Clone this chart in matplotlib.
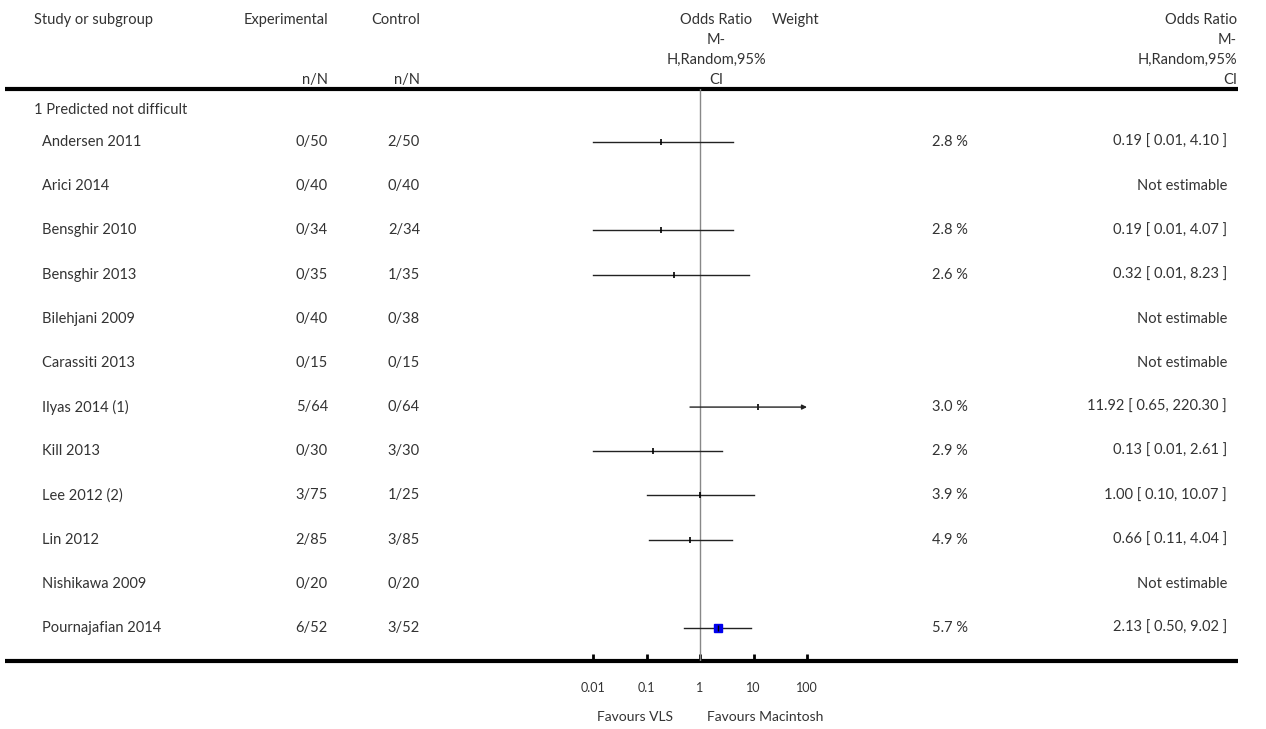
import numpy as np
import matplotlib
matplotlib.use("Agg")
import matplotlib.pyplot as plt

plt.rcParams['font.family'] = ['Lato', 'DejaVu Sans']

# datos del forest plot
estudios = ["Andersen 2011", "Arici 2014", "Bensghir 2010", "Bensghir 2013",
            "Bilehjani 2009", "Carassiti 2013", "Ilyas 2014 (1)", "Kill 2013",
            "Lee 2012 (2)", "Lin 2012", "Nishikawa 2009", "Pournajafian 2014"]
exp_txt = ["0/50", "0/40", "0/34", "0/35", "0/40", "0/15", "5/64", "0/30",
           "3/75", "2/85", "0/20", "6/52"]
ctl_txt = ["2/50", "0/40", "2/34", "1/35", "0/38", "0/15", "0/64", "3/30",
           "1/25", "3/85", "0/20", "3/52"]
or_est = [0.19, None, 0.19, 0.32, None, None, 11.92, 0.13, 1.00, 0.66, None, 2.13]
ci_lo = [0.01, None, 0.01, 0.01, None, None, 0.65, 0.01, 0.10, 0.11, None, 0.50]
ci_hi = [4.10, None, 4.07, 8.23, None, None, 220.30, 2.61, 10.07, 4.04, None, 9.02]
peso = [2.8, None, 2.8, 2.6, None, None, 3.0, 2.9, 3.9, 4.9, None, 5.7]

W, H = 1266, 729
gris = '#333333'
fs = 10.5

fig = plt.figure(figsize=(W / 100, H / 100), dpi=100)
ax = fig.add_axes([0, 0, 1, 1])
ax.set_xlim(0, W)
ax.set_ylim(H, 0)
ax.axis('off')

# encabezados
ax.text(34, 20, "Study or subgroup", fontsize=fs, color=gris, va='center', ha='left')
ax.text(328, 20, "Experimental", fontsize=fs, color=gris, va='center', ha='right')
ax.text(328, 80, "n/N", fontsize=fs, color=gris, va='center', ha='right')
ax.text(420, 20, "Control", fontsize=fs, color=gris, va='center', ha='right')
ax.text(420, 80, "n/N", fontsize=fs, color=gris, va='center', ha='right')
for k, linea in enumerate(["Odds Ratio", "M-", "H,Random,95%", "CI"]):
    ax.text(716, 20 + k * 20, linea, fontsize=fs, color=gris, va='center', ha='center')
    ax.text(1237, 20 + k * 20, linea, fontsize=fs, color=gris, va='center', ha='right')
ax.text(796, 20, "Weight", fontsize=fs, color=gris, va='center', ha='center')

ax.plot([5, 1238], [89, 89], color='black', lw=3, solid_capstyle='butt')
ax.plot([5, 1238], [661, 661], color='black', lw=3, solid_capstyle='butt')

ax.text(34, 110, "1 Predicted not difficult", fontsize=fs, color=gris, va='center', ha='left')

y0, paso = 142, 44.18
filas = [y0 + i * paso for i in range(len(estudios))]

for i, y in enumerate(filas):
    ax.text(42, y, estudios[i], fontsize=fs, color=gris, va='center', ha='left')
    ax.text(328, y, exp_txt[i], fontsize=fs, color=gris, va='center', ha='right')
    ax.text(420, y, ctl_txt[i], fontsize=fs, color=gris, va='center', ha='right')
    if or_est[i] is None:
        ax.text(1227, y, "Not estimable", fontsize=fs, color=gris, va='center', ha='right')
    else:
        ax.text(968, y, f"{peso[i]:.1f} %", fontsize=fs, color=gris, va='center', ha='right')
        ax.text(1227, y, f"{or_est[i]:.2f} [ {ci_lo[i]:.2f}, {ci_hi[i]:.2f} ]",
                fontsize=fs, color=gris, va='center', ha='right')

# panel del forest plot en escala log
fax = fig.add_axes([593 / W, (H - 661) / H, 214 / W, (661 - 89) / H])
fax.set_xscale('log')
fax.set_xlim(0.01, 100)
fax.set_ylim(661, 89)
fax.patch.set_alpha(0)
for s in fax.spines.values():
    s.set_visible(False)
fax.set_yticks([])
fax.minorticks_off()
fax.set_xticks([0.01, 0.1, 1, 10, 100])
fax.set_xticklabels(["0.01", "0.1", "1", "10", "100"], fontsize=9, color=gris)
fax.tick_params(axis='x', direction='in', length=5, width=2, pad=15, color='black')

fax.axvline(1, color='#888888', lw=1)
for i, y in enumerate(filas):
    if or_est[i] is None:
        continue
    lo = max(ci_lo[i], 0.01)
    hi = min(ci_hi[i], 100)
    if ci_hi[i] > 100:
        # intervalo recortado: se dibuja con flecha
        fax.annotate('', xy=(hi, y), xytext=(lo, y),
                     arrowprops=dict(arrowstyle='-|>', color='#222222', lw=1,
                                     mutation_scale=7, shrinkA=0, shrinkB=0),
                     annotation_clip=False)
    else:
        fax.plot([lo, hi], [y, y], color='#222222', lw=1, clip_on=False)
    if peso[i] >= 5:
        fax.plot([or_est[i]], [y], marker='s', color='#0000ee', ms=6, clip_on=False)
        fax.plot([or_est[i]], [y], marker='|', color='black', ms=4, clip_on=False)
    else:
        fax.plot([or_est[i]], [y], marker='|', color='black', ms=4, mew=1.2, clip_on=False)

ax.text(635, 717, "Favours VLS", fontsize=10, color=gris, va='center', ha='center')
ax.text(765, 717, "Favours Macintosh", fontsize=10, color=gris, va='center', ha='center')

fig.savefig("out.png", dpi=100)
